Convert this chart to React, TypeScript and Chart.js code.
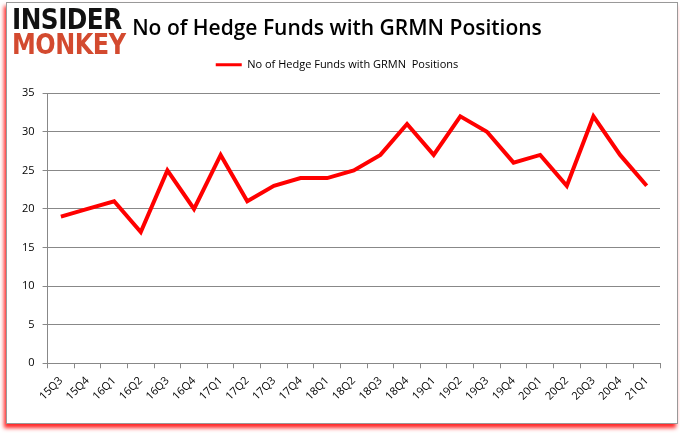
import React, { useEffect, useRef } from "react";
import { Chart, registerables } from "chart.js";

Chart.register(...registerables);

const categories = ["15Q3","15Q4","16Q1","16Q2","16Q3","16Q4","17Q1","17Q2","17Q3","17Q4","18Q1","18Q2","18Q3","18Q4","19Q1","19Q2","19Q3","19Q4","20Q1","20Q2","20Q3","20Q4","21Q1"];
const hedgeFunds = [19,20,21,17,25,20,27,21,23,24,24,25,27,31,27,32,30,26,27,23,32,27,23];
const seriesLabel = "No of Hedge Funds with GRMN  Positions";
const chartTitle = "No of Hedge Funds with GRMN Positions";

const legendSpacer = {
  id: "legendSpacer",
  beforeInit(chart: any) {
    const orig = chart.legend.fit;
    chart.legend.fit = function () {
      orig.call(this);
      this.height += 13;
    };
  },
};

export default function App() {
  const ref = useRef<HTMLCanvasElement | null>(null);
  useEffect(() => {
    document.body.style.margin = "0";
    const chart = new Chart(ref.current!, {
      type: "line",
      data: {
        labels: categories,
        datasets: [{
          label: seriesLabel,
          data: hedgeFunds,
          borderColor: "#ff0000",
          backgroundColor: "#ff0000",
          borderWidth: 4,
          pointRadius: 0,
          tension: 0,
        }],
      },
      plugins: [legendSpacer],
      options: {
        animation: false,
        responsive: false,
        layout: { padding: { left: 14, right: 20, top: 16, bottom: 24 } },
        plugins: {
          title: {
            display: true,
            text: chartTitle,
            color: "#000",
            font: { family: "Open Sans", size: 21, weight: "600" },
            padding: { top: 0, bottom: 10 },
          },
          legend: {
            display: true,
            labels: {
              color: "#000",
              font: { family: "Open Sans", size: 11 },
              boxWidth: 26,
              boxHeight: 3,
              padding: 8,
              generateLabels: (c: any) =>
                c.data.datasets.map((d: any, i: number) => ({
                  text: d.label,
                  fillStyle: "#ff0000",
                  strokeStyle: "#ff0000",
                  lineWidth: 0,
                  hidden: false,
                  datasetIndex: i,
                  fontColor: "#000",
                })),
            },
          },
          tooltip: { enabled: false },
        },
        scales: {
          x: {
            offset: true,
            grid: { display: true, drawOnChartArea: false, offset: true, color: "#888", tickLength: 5 },
            border: { color: "#888" },
            ticks: { color: "#000", font: { family: "Open Sans", size: 11 }, maxRotation: 45, minRotation: 45, autoSkip: false, padding: 6 },
          },
          y: {
            min: 0,
            max: 35,
            ticks: { stepSize: 5, color: "#000", font: { family: "Open Sans", size: 11 }, padding: 8 },
            grid: { color: "#888", tickLength: 5 },
            border: { color: "#888" },
          },
        },
      },
    });
    return () => chart.destroy();
  }, []);

  return (
    <div style={{ position: "relative", width: 680, height: 433, background: "#fff", overflow: "hidden" }}>
      <div style={{ position: "absolute", left: 6, top: 2, width: 670, height: 420, border: "1px solid #999", boxShadow: "-2px 4px 4px rgba(255,0,0,0.85)" }} />
      <canvas ref={ref} width={680} height={433} style={{ position: "absolute", left: 0, top: 0 }} />
      <div style={{ position: "absolute", left: 12, top: 7, fontFamily: "DejaVu Sans Condensed, DejaVu Sans", fontWeight: 900, lineHeight: "25px" }}>
        <div style={{ fontSize: 28, color: "#111", transform: "scaleX(0.98)", transformOrigin: "left", letterSpacing: -0.5 }}>INSIDER</div>
        <div style={{ fontSize: 28, color: "#d34a2f", transform: "scaleX(0.95)", transformOrigin: "left", letterSpacing: -0.5 }}>MONKEY</div>
      </div>
    </div>
  );
}
